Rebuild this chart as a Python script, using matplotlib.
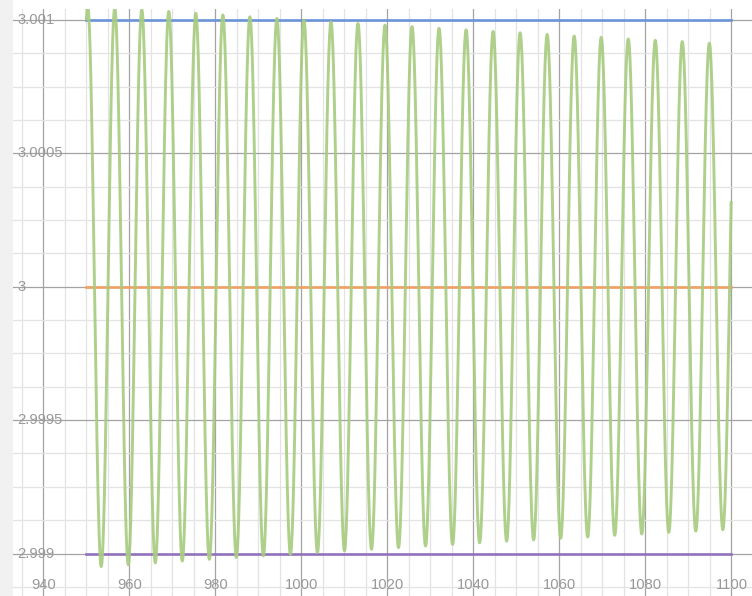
import numpy as np
import matplotlib
matplotlib.use("Agg")
import matplotlib.pyplot as plt
from matplotlib.patches import Rectangle

# ---- data ----
# consecutive turning points (trough / peak) of the green oscillating curve
extrema_x = [947.19, 950.33, 953.47, 956.62, 959.76, 962.90, 966.04, 969.18, 972.32,
             975.46, 978.61, 981.75, 984.89, 988.03, 991.17, 994.31, 997.46, 1000.60,
             1003.74, 1006.88, 1010.02, 1013.16, 1016.31, 1019.45, 1022.59, 1025.73,
             1028.87, 1032.01, 1035.16, 1038.30, 1041.44, 1044.58, 1047.72, 1050.86,
             1054.00, 1057.15, 1060.29, 1063.43, 1066.57, 1069.71, 1072.85, 1076.00,
             1079.14, 1082.28, 1085.42, 1088.56, 1091.70, 1094.85, 1097.99, 1101.13]
# distance of each turning point from 3 (units of 1e-6), alternating below/above
extrema_dev = [-1056, 1052, -1049, 1045, -1042, 1039, -1035, 1032, -1028, 1025,
               -1022, 1019, -1015, 1012, -1009, 1006, -1003, 999, -996, 993,
               -990, 987, -984, 981, -978, 975, -972, 969, -966, 963,
               -960, 957, -954, 952, -949, 946, -943, 940, -938, 935,
               -932, 929, -927, 924, -921, 919, -916, 913, -911, 908]
curve_start, curve_end = 950, 1100
center = 3.0
upper_bound = 3.001
lower_bound = 2.999

x_major = [940, 960, 980, 1000, 1020, 1040, 1060, 1080, 1100]
y_major = [2.999, 2.9995, 3.0, 3.0005, 3.001]
y_labels = ["2.999", "2.9995", "3", "3.0005", "3.001"]

# ---- figure ----
W, H = 752, 596
fig = plt.figure(figsize=(W / 100, H / 100), dpi=100)
fig.patch.set_facecolor("white")
left_px, top_px = 13, 9
ax = fig.add_axes([left_px / W, 0, (W - left_px) / W, (H - top_px) / H])
for s in ax.spines.values():
    s.set_visible(False)

fig.patches.append(Rectangle((0, 0), left_px / W, 1, transform=fig.transFigure,
                             facecolor="#f1f1f1", edgecolor="none", zorder=0))

# grid
ax.set_xticks(x_major)
ax.set_yticks(y_major)
ax.set_xticks(np.arange(930, 1110, 5), minor=True)
ax.set_yticks(np.arange(2.99875, 3.00110, 0.000125), minor=True)
ax.tick_params(which="both", length=0, labelbottom=False, labelleft=False)
ax.grid(which="major", color="#a3a3a3", linewidth=0.9)
ax.grid(which="minor", color="#e3e3e3", linewidth=0.9)
ax.set_axisbelow(True)

# green curve: smooth half-cosine arcs between the turning points
ex = np.array(extrema_x)
ey = center + np.array(extrema_dev) * 1e-6
xs, ys = [], []
t = np.linspace(0, 1, 40)
for i in range(len(ex) - 1):
    xx = ex[i] + (ex[i + 1] - ex[i]) * t
    yy = ey[i] + (ey[i + 1] - ey[i]) * (1 - np.cos(np.pi * t)) / 2
    xs.append(xx)
    ys.append(yy)
xs = np.concatenate(xs)
ys = np.concatenate(ys)
m = (xs >= curve_start) & (xs <= curve_end)
ax.plot(xs[m], ys[m], color="#a8cc80", linewidth=2.1, alpha=0.92, zorder=3,
        solid_capstyle="butt")

# bounds
ax.plot([curve_start, curve_end], [upper_bound] * 2, color="#6b93d8", linewidth=1.9, zorder=2)
ax.plot([curve_start, curve_end], [center] * 2, color="#f0a063", linewidth=1.9, zorder=2)
ax.plot([curve_start, curve_end], [lower_bound] * 2, color="#9272bc", linewidth=1.9, zorder=2)

# view limits (set after ticks so ticks do not widen them)
ax.set_xlim(932.96, 1104.77)
ax.set_ylim(2.9988407, 3.0010412)

# labels
font = dict(family=["Liberation Sans", "DejaVu Sans"], size=10.6, color="#999999")
ytr = ax.get_yaxis_transform()
for v, lab in zip(y_major, y_labels):
    ax.text(0.006, v, lab, transform=ytr, ha="left", va="center", zorder=5, **font)
xtr = ax.get_xaxis_transform()
for v in x_major:
    ax.text(v, 0.019, str(v), transform=xtr, ha="center", va="center", zorder=5, **font)

fig.savefig("out.png", dpi=100)
